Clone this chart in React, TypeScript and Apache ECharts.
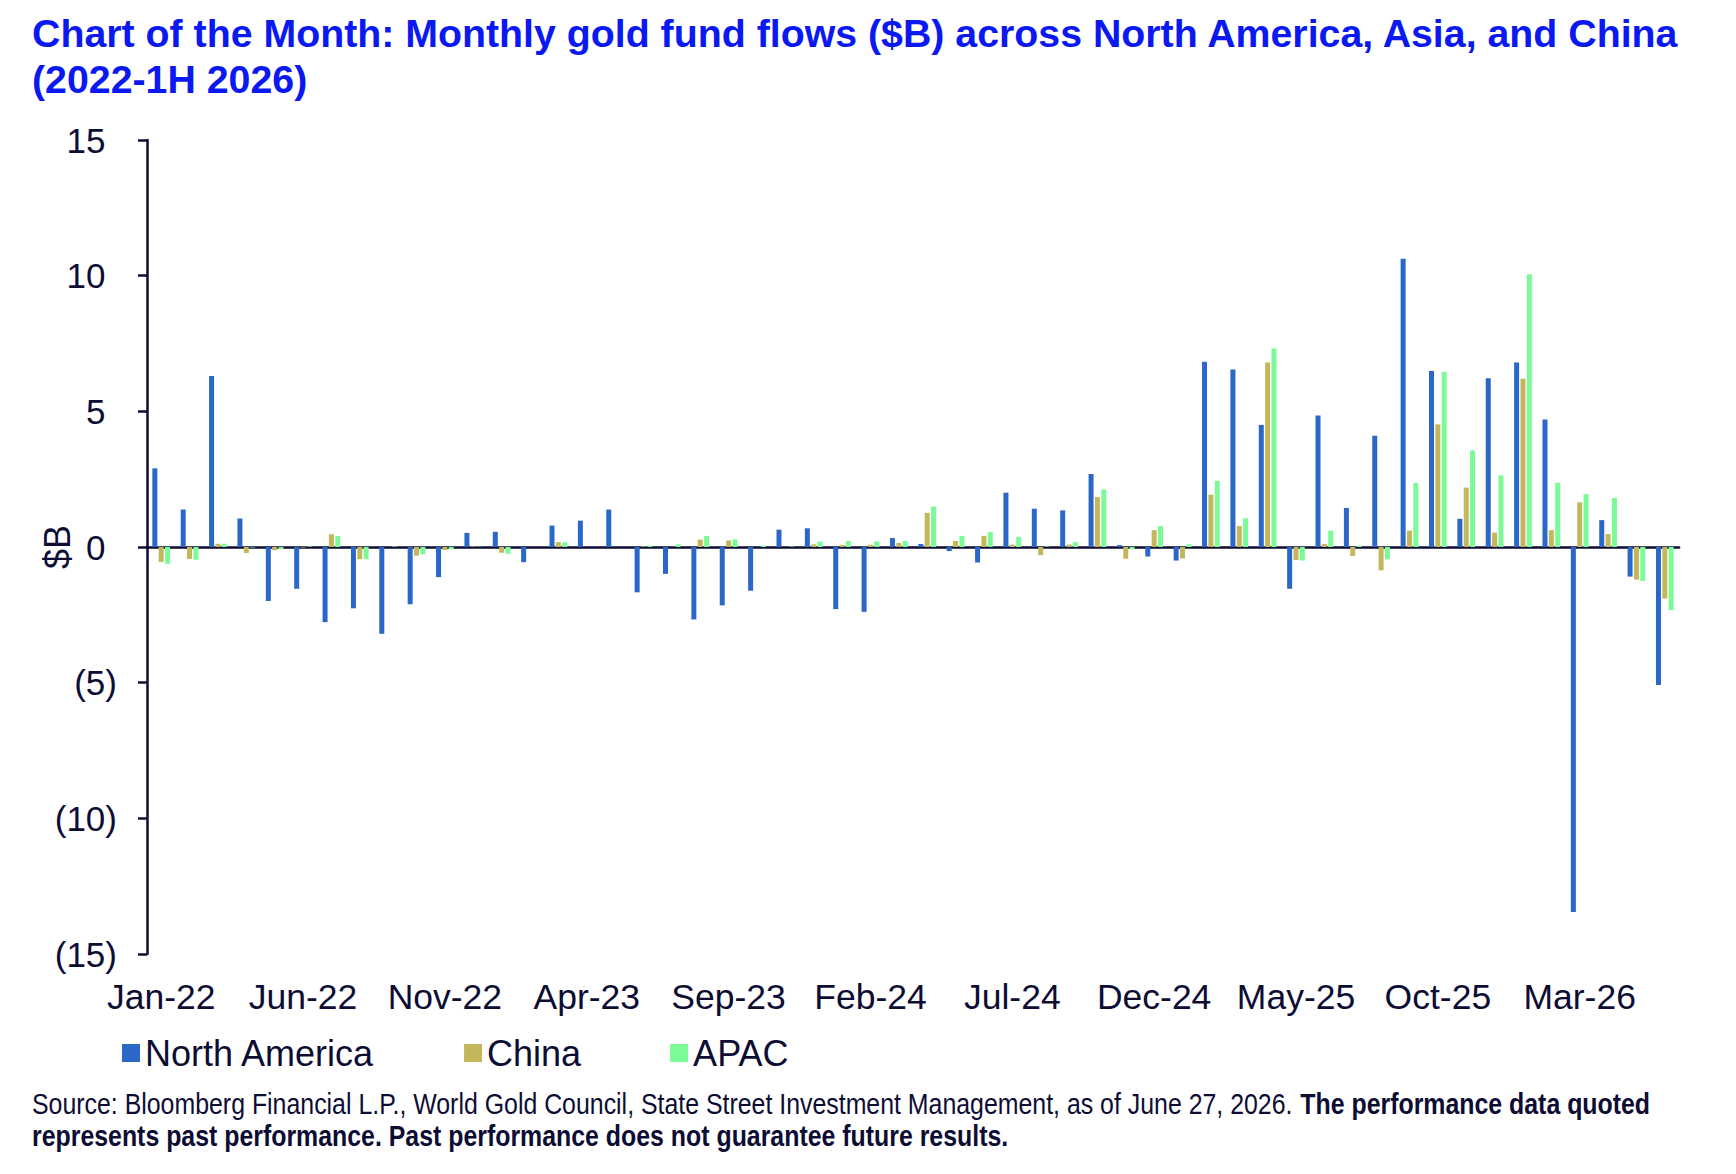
import { useEffect, useRef } from "react"
import * as echarts from "echarts"

const months = [
  "Jan-22", "Feb-22", "Mar-22", "Apr-22", "May-22", "Jun-22", "Jul-22", "Aug-22", "Sep-22", "Oct-22", "Nov-22", "Dec-22",
  "Jan-23", "Feb-23", "Mar-23", "Apr-23", "May-23", "Jun-23", "Jul-23", "Aug-23", "Sep-23", "Oct-23", "Nov-23", "Dec-23",
  "Jan-24", "Feb-24", "Mar-24", "Apr-24", "May-24", "Jun-24", "Jul-24", "Aug-24", "Sep-24", "Oct-24", "Nov-24", "Dec-24",
  "Jan-25", "Feb-25", "Mar-25", "Apr-25", "May-25", "Jun-25", "Jul-25", "Aug-25", "Sep-25", "Oct-25", "Nov-25", "Dec-25",
  "Jan-26", "Feb-26", "Mar-26", "Apr-26", "May-26", "Jun-26",
]

const northAmerica = [
  2.9, 1.38, 6.3, 1.05, -1.99, -1.54, -2.77, -2.26, -3.2, -2.11, -1.11, 0.52,
  0.56, -0.56, 0.79, 0.97, 1.38, -1.67, -0.99, -2.67, -2.15, -1.61, 0.64, 0.69,
  -2.29, -2.39, 0.33, 0.11, -0.15, -0.57, 2.0, 1.41, 1.35, 2.69, 0.07, -0.35,
  -0.5, 6.83, 6.54, 4.5, -1.54, 4.85, 1.44, 4.1, 10.62, 6.49, 1.04, 6.22,
  6.8, 4.7, -13.45, 0.99, -1.09, -5.09,
]

const china = [
  -0.55, -0.44, 0.12, -0.22, -0.12, -0.02, 0.47, -0.45, 0, -0.32, -0.11, 0.02,
  -0.21, 0, 0.18, 0, 0, 0.02, 0, 0.27, 0.24, 0, 0, 0.1,
  0.08, 0.08, 0.15, 1.26, 0.22, 0.41, 0.09, -0.3, 0.09, 1.84, -0.43, 0.62,
  -0.42, 1.93, 0.77, 6.8, -0.48, 0.11, -0.33, -0.86, 0.6, 4.52, 2.19, 0.53,
  6.2, 0.62, 1.65, 0.48, -1.2, -1.9,
]

const apac = [
  -0.62, -0.47, 0.12, -0.02, -0.07, 0.02, 0.4, -0.45, 0.02, -0.27, -0.08, 0.01,
  -0.25, 0, 0.17, 0, 0, 0.05, 0.1, 0.41, 0.28, 0.05, 0.02, 0.2,
  0.22, 0.21, 0.22, 1.49, 0.41, 0.55, 0.37, 0.02, 0.18, 2.12, -0.08, 0.77,
  0.1, 2.44, 1.06, 7.32, -0.5, 0.6, 0.05, -0.45, 2.36, 6.46, 3.56, 2.64,
  10.05, 2.37, 1.95, 1.81, -1.25, -2.33,
]

const FONT = "'Liberation Sans', Arial, sans-serif"
const INK = "#0d0d33"

export default function App() {
  const chartRef = useRef<HTMLDivElement>(null)

  useEffect(() => {
    document.body.style.margin = "0"
    if (!chartRef.current) return
    const chart = echarts.init(chartRef.current, undefined, { renderer: "svg" })

    const bar = (name: string, data: number[], color: string) => ({
      name,
      type: "bar" as const,
      data,
      barWidth: 5,
      barGap: "27%",
      itemStyle: { color },
    })

    chart.setOption({
      animation: false,
      backgroundColor: "#ffffff",
      textStyle: { fontFamily: FONT },
      title: {
        text: "Chart of the Month: Monthly gold fund flows ($B) across North America, Asia, and China\n(2022-1H 2026)",
        left: 32,
        top: 10,
        padding: 0,
        textStyle: {
          fontFamily: FONT,
          fontSize: 39.3,
          fontWeight: "bold",
          color: "#0a18f2",
          lineHeight: 46,
        },
      },
      legend: {
        left: 122,
        top: 1035,
        padding: 0,
        itemWidth: 18,
        itemHeight: 18,
        itemGap: 89,
        icon: "rect",
        textStyle: { fontFamily: FONT, fontSize: 36, color: INK },
        data: ["North America", "China", "APAC"],
      },
      grid: { left: 147, right: 57, top: 140, bottom: 220, containLabel: false },
      xAxis: [
        {
          type: "category",
          data: months,
          axisLine: { show: false, onZero: false },
          axisTick: { show: false },
          axisLabel: {
            interval: 4,
            margin: 25,
            fontSize: 35.5,
            color: INK,
            fontFamily: FONT,
          },
        },
        {
          type: "category",
          data: months,
          position: "top",
          axisLine: { show: true, onZero: true, lineStyle: { color: INK, width: 2.7 } },
          axisTick: { show: false },
          axisLabel: { show: false },
        },
      ],
      yAxis: {
        type: "value",
        min: -15,
        max: 15,
        interval: 5,
        name: "$B",
        nameLocation: "middle",
        nameRotate: 90,
        nameGap: 72,
        nameMoveOverlap: false,
        nameTextStyle: { fontSize: 36, color: INK, fontFamily: FONT },
        axisLine: { show: true, lineStyle: { color: INK, width: 2.5 } },
        axisTick: { show: true, length: 9, lineStyle: { color: INK, width: 2.5 } },
        splitLine: { show: false },
        axisLabel: {
          margin: 30,
          fontSize: 35,
          color: INK,
          fontFamily: FONT,
          formatter: (v: number) => (v < 0 ? `(${Math.abs(v)})` : `{p|${v}}`),
          rich: {
            p: { fontSize: 35, color: INK, fontFamily: FONT, padding: [0, 11.5, 0, 0] },
          },
        },
      },
      series: [
        bar("North America", northAmerica, "#2b66c9"),
        bar("China", china, "#c3b75c"),
        bar("APAC", apac, "#7afb98"),
      ],
      graphic: [
        {
          type: "text",
          x: 32,
          y: 1088,
          scaleX: 0.83,
          style: {
            text:
              "{r|Source: Bloomberg Financial L.P., World Gold Council, State Street Investment Management, as of June 27, 2026. }{b|The performance data quoted}\n{b|represents past performance. Past performance does not guarantee future results.}",
            fill: INK,
            fontFamily: FONT,
            fontSize: 30,
            lineHeight: 32,
            verticalAlign: "top",
            rich: {
              r: { fontFamily: FONT, fontSize: 30, lineHeight: 32, fill: INK },
              b: { fontFamily: FONT, fontSize: 30, lineHeight: 32, fontWeight: "bold", fill: INK },
            },
          },
        },
      ],
    })

    return () => chart.dispose()
  }, [])

  return <div ref={chartRef} style={{ width: 1736, height: 1174 }} />
}
